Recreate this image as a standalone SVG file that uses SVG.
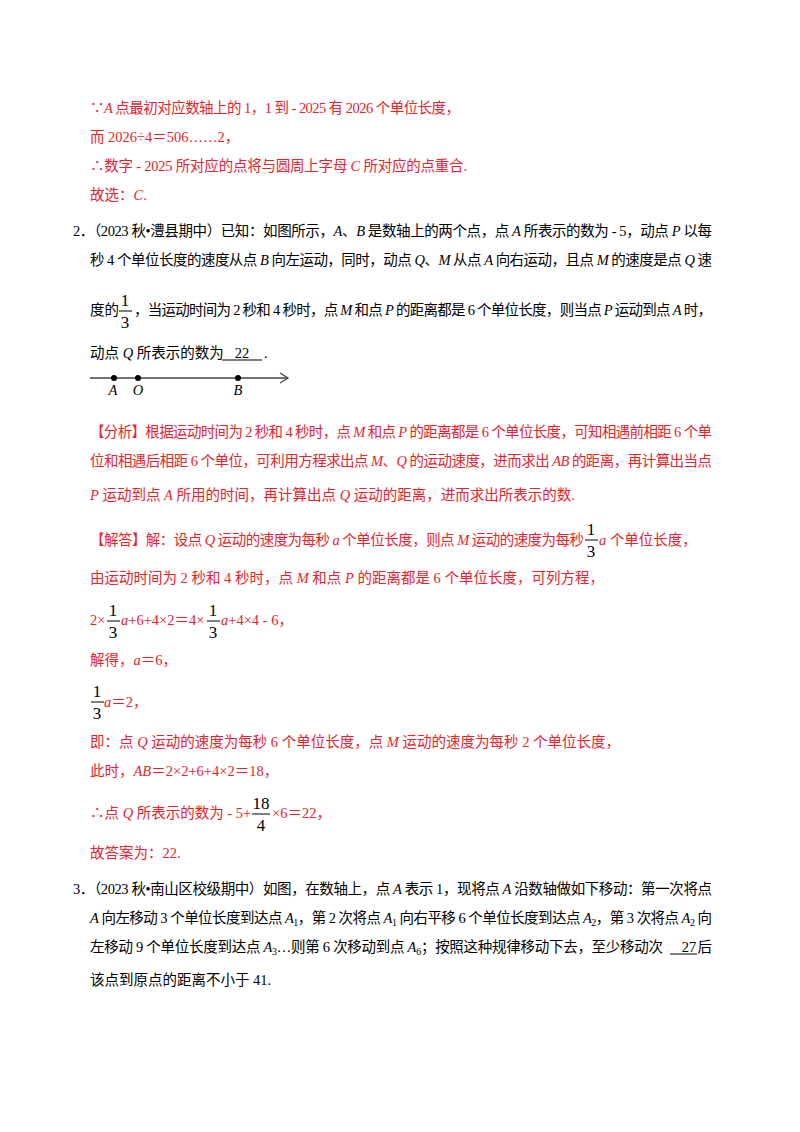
<svg xmlns="http://www.w3.org/2000/svg" width="800" height="1132" viewBox="0 0 800 1132">
<style>
text{font-family:"Liberation Serif","Noto Sans CJK SC",serif;font-size:14.5px;fill:#000}
.r{fill:#e8232d}
.i{font-style:italic}
.f{font-size:17px;fill:#000}
line.fl{stroke:#000;stroke-width:1}
</style>
<rect width="800" height="1132" fill="#fff"/>
<text class="r" x="90" y="113" textLength="370" lengthAdjust="spacing">∵<tspan class="i">A</tspan> 点最初对应数轴上的 1，1 到 - 2025 有 2026 个单位长度，</text>
<text class="r" x="90" y="142">而 2026÷4＝506……2，</text>
<text class="r" x="90" y="171" textLength="377" lengthAdjust="spacing">∴数字 - 2025 所对应的点将与圆周上字母 <tspan class="i">C</tspan> 所对应的点重合.</text>
<text class="r" x="90" y="200">故选：<tspan class="i">C</tspan>.</text>

<text x="73" y="236" textLength="639" lengthAdjust="spacing">2．（2023 秋•澧县期中）已知：如图所示，<tspan class="i">A</tspan>、<tspan class="i">B</tspan> 是数轴上的两个点，点 <tspan class="i">A</tspan> 所表示的数为 - 5，动点 <tspan class="i">P</tspan> 以每</text>
<text x="90" y="265" textLength="622" lengthAdjust="spacing">秒 4 个单位长度的速度从点 <tspan class="i">B</tspan> 向左运动，同时，动点 <tspan class="i">Q</tspan>、<tspan class="i">M</tspan> 从点 <tspan class="i">A</tspan> 向右运动，且点 <tspan class="i">M</tspan> 的速度是点 <tspan class="i">Q</tspan> 速</text>
<text x="90" y="315">度的</text>
<text class="f" x="125" y="306" text-anchor="middle">1</text><line class="fl" x1="119" y1="311" x2="132" y2="311"/><text class="f" x="125" y="328" text-anchor="middle">3</text>
<text x="134" y="315" textLength="578" lengthAdjust="spacing">，当运动时间为 2 秒和 4 秒时，点 <tspan class="i">M</tspan> 和点 <tspan class="i">P</tspan> 的距离都是 6 个单位长度，则当点 <tspan class="i">P</tspan> 运动到点 <tspan class="i">A</tspan> 时，</text>
<text x="90" y="358">动点 <tspan class="i">Q</tspan> 所表示的数为</text>
<text x="242" y="358" text-anchor="middle">22</text>
<text x="264" y="358">.</text>
<line x1="222" y1="360" x2="262" y2="360" stroke="#000" stroke-width="1"/>
<g id="numberline">
<line x1="90" y1="378" x2="287" y2="378" stroke="#444" stroke-width="1.5"/>
<path d="M280,373 L288,378 L280,383" fill="none" stroke="#444" stroke-width="1.3"/>
<circle cx="114" cy="378" r="3" fill="#000"/><circle cx="138" cy="378" r="3" fill="#000"/><circle cx="238" cy="378" r="3" fill="#000"/>
<text class="i" x="113" y="395" text-anchor="middle" font-size="13">A</text>
<text class="i" x="138" y="395" text-anchor="middle" font-size="13">O</text>
<text class="i" x="238" y="395" text-anchor="middle" font-size="13">B</text>
</g>

<text class="r" x="90" y="437" textLength="622" lengthAdjust="spacing">【分析】根据运动时间为 2 秒和 4 秒时，点 <tspan class="i">M</tspan> 和点 <tspan class="i">P</tspan> 的距离都是 6 个单位长度，可知相遇前相距 6 个单</text>
<text class="r" x="90" y="466" textLength="622" lengthAdjust="spacing">位和相遇后相距 6 个单位，可利用方程求出点 <tspan class="i">M</tspan>、<tspan class="i">Q</tspan> 的运动速度，进而求出 <tspan class="i">AB</tspan> 的距离，再计算出当点</text>
<text class="r" x="90" y="500"><tspan class="i">P</tspan> 运动到点 <tspan class="i">A</tspan> 所用的时间，再计算出点 <tspan class="i">Q</tspan> 运动的距离，进而求出所表示的数.</text>

<text class="r" x="90" y="545" textLength="494" lengthAdjust="spacing">【解答】解：设点 <tspan class="i">Q</tspan> 运动的速度为每秒 <tspan class="i">a</tspan> 个单位长度，则点 <tspan class="i">M</tspan> 运动的速度为每秒</text>
<text class="f" x="591" y="535" text-anchor="middle">1</text><line class="fl" x1="585" y1="540" x2="598" y2="540"/><text class="f" x="591" y="557" text-anchor="middle">3</text>
<text class="r" x="599" y="545"><tspan class="i">a</tspan> 个单位长度，</text>
<text class="r" x="90" y="583">由运动时间为 2 秒和 4 秒时，点 <tspan class="i">M</tspan> 和点 <tspan class="i">P</tspan> 的距离都是 6 个单位长度，可列方程，</text>
<text class="r" x="90" y="625">2×</text>
<text class="f" x="113" y="616" text-anchor="middle">1</text><line class="fl" x1="107" y1="621" x2="120" y2="621"/><text class="f" x="113" y="638" text-anchor="middle">3</text>
<text class="r" x="121" y="625"><tspan class="i">a</tspan>+6+4×2＝4×</text>
<text class="f" x="213" y="616" text-anchor="middle">1</text><line class="fl" x1="207" y1="621" x2="220" y2="621"/><text class="f" x="213" y="638" text-anchor="middle">3</text>
<text class="r" x="221" y="625"><tspan class="i">a</tspan>+4×4 - 6，</text>
<text class="r" x="90" y="665">解得，<tspan class="i">a</tspan>＝6，</text>
<text class="f" x="97" y="697" text-anchor="middle">1</text><line class="fl" x1="91" y1="702" x2="104" y2="702"/><text class="f" x="97" y="719" text-anchor="middle">3</text>
<text class="r" x="104" y="707"><tspan class="i">a</tspan>＝2，</text>
<text class="r" x="90" y="747">即：点 <tspan class="i">Q</tspan> 运动的速度为每秒 6 个单位长度，点 <tspan class="i">M</tspan> 运动的速度为每秒 2 个单位长度，</text>
<text class="r" x="90" y="776">此时，<tspan class="i">AB</tspan>＝2×2+6+4×2＝18，</text>
<text class="r" x="90" y="818">∴点 <tspan class="i">Q</tspan> 所表示的数为 - 5+</text>
<text class="f" x="261" y="809" text-anchor="middle">18</text><line class="fl" x1="252" y1="814" x2="270" y2="814"/><text class="f" x="261" y="831" text-anchor="middle">4</text>
<text class="r" x="272" y="818">×6＝22，</text>
<text class="r" x="90" y="858">故答案为：22.</text>

<text x="73" y="894" textLength="639" lengthAdjust="spacing">3．（2023 秋•南山区校级期中）如图，在数轴上，点 <tspan class="i">A</tspan> 表示 1，现将点 <tspan class="i">A</tspan> 沿数轴做如下移动：第一次将点</text>
<text x="90" y="923" textLength="622" lengthAdjust="spacing"><tspan class="i">A</tspan> 向左移动 3 个单位长度到达点 <tspan class="i">A</tspan><tspan font-size="10" dy="3">1</tspan><tspan dy="-3">，第 2 次将点 </tspan><tspan class="i">A</tspan><tspan font-size="10" dy="3">1</tspan><tspan dy="-3"> 向右平移 6 个单位长度到达点 </tspan><tspan class="i">A</tspan><tspan font-size="10" dy="3">2</tspan><tspan dy="-3">，第 3 次将点 </tspan><tspan class="i">A</tspan><tspan font-size="10" dy="3">2</tspan><tspan dy="-3"> 向</tspan></text>
<text x="90" y="952" textLength="573" lengthAdjust="spacing">左移动 9 个单位长度到达点 <tspan class="i">A</tspan><tspan font-size="10" dy="3">3</tspan><tspan dy="-3">…则第 6 次移动到点 </tspan><tspan class="i">A</tspan><tspan font-size="10" dy="3">6</tspan><tspan dy="-3">；按照这种规律移动下去，至少移动次</tspan></text>
<text x="689" y="952" text-anchor="middle">27</text>
<text x="712" y="952" text-anchor="end">后</text>
<line x1="670" y1="954" x2="697" y2="954" stroke="#000" stroke-width="1"/>
<text x="90" y="985">该点到原点的距离不小于 41.</text>
</svg>
